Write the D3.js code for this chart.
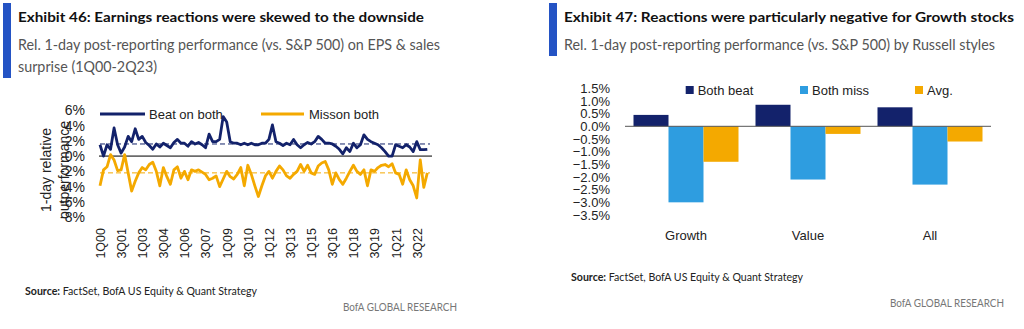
<!DOCTYPE html>
<html><head><meta charset="utf-8">
<script src="https://cdn.jsdelivr.net/npm/d3@7"></script>
<style>
html,body{margin:0;padding:0;background:#fff;}
svg{display:block;}
</style></head>
<body>
<svg id="c" width="1024" height="329"></svg>
<script>
// ---------- Data: Exhibit 46 ----------
const quarterStart = {year: 2000, q: 1};
const quarterCount = 94; // 1Q00 .. 2Q23
const xTickLabels = ["1Q00","3Q01","1Q03","3Q04","1Q06","3Q07","1Q09","3Q10","1Q12","3Q13","1Q15","3Q16","1Q18","3Q19","1Q21","3Q22"];
const yTicksLeft = [6,4,2,0,-2,-4,-6,-8];
const beatOnBoth = [1.5,0.0,1.5,0.9,3.7,1.5,0.4,1.2,2.6,1.9,3.6,2.2,2.6,1.8,1.4,0.9,1.6,1.2,1.7,1.4,
 1.1,1.8,2.2,1.7,1.7,1.3,1.9,1.6,1.8,1.5,1.1,2.9,1.9,1.9,2.2,5.2,4.5,1.9,1.7,1.7,
 1.5,1.7,1.5,1.7,1.5,1.5,1.7,1.7,2.2,4.1,1.9,1.7,1.4,1.7,1.5,2.2,1.5,1.1,1.5,1.8,
 1.6,1.9,2.6,2.2,1.7,1.7,1.6,1.3,0.9,0.3,1.1,0.6,1.7,1.1,1.5,2.8,2.2,1.9,1.7,1.5,
 1.1,0.6,0.0,0.0,1.5,1.3,1.1,1.5,1.2,0.6,1.9,0.85,0.85,0.9];
const missOnBoth = [-3.9,-1.8,-1.4,0.2,-0.5,-1.9,-1.8,0.2,-2.2,-4.6,-3.3,-2.2,-1.5,-1.8,-1.1,-0.8,-2.0,-3.9,-1.5,-2.7,
 -3.7,-1.8,-1.4,-2.9,-2.0,-3.1,-1.8,-2.0,-1.8,-2.1,-2.4,-3.1,-2.9,-2.6,-4.0,-3.0,-2.0,-2.7,-3.0,-2.4,
 -1.5,-3.9,-1.2,-2.4,-3.9,-5.3,-3.9,-2.6,-2.0,-2.9,-2.0,-1.3,-1.8,-2.6,-2.9,-2.4,-2.0,-1.1,-2.0,-1.2,
 -2.2,-2.4,-1.3,-0.9,-0.7,-1.8,-3.7,-2.2,-3.1,-3.7,-2.9,-2.0,-1.2,-2.0,-2.4,-1.8,-3.9,-1.8,-2.0,-1.5,
 -1.2,-1.1,-1.4,-1.0,-2.2,-2.4,-3.7,-1.8,-3.1,-3.9,-5.5,-0.5,-4.1,-2.2];
const averages = [1.6, -2.2]; // Beat on both avg, Miss on both avg
const lineSeriesNames = ["Beat on both", "Misson both"];

// ---------- Data: Exhibit 47 ----------
const styles = ["Growth","Value","All"];
const barSeriesNames = ["Both beat","Both miss","Avg."];
const bothBeat = [0.45, 0.85, 0.75];
const bothMiss = [-3.0, -2.1, -2.3];
const avgReaction = [-1.4, -0.3, -0.6];
const yTicksRight = [1.5,1.0,0.5,0.0,-0.5,-1.0,-1.5,-2.0,-2.5,-3.0,-3.5];

// ---------- Styles ----------
const NAVY = "#13226b", LBLUE = "#2e9de0", ORANGE = "#f4a900", ACCENT = "#2453c4";
const CHART_FONT = "'Liberation Sans', Arial, sans-serif";
const TITLE_FONT = "Lato, 'Open Sans', sans-serif";

const svg = d3.select("#c");
svg.append("rect").attr("width",1024).attr("height",329).attr("fill","#fff");

function fitText(sel, w){ sel.attr("textLength", w).attr("lengthAdjust","spacingAndGlyphs"); }

function header(x0, title, subLines, titleW, subWs, barH){
  svg.append("rect").attr("x", x0).attr("y", 3).attr("width", 8).attr("height", barH).attr("fill", ACCENT);
  const t = svg.append("text").attr("x", x0+15).attr("y", 21.5).attr("font-family", TITLE_FONT)
    .attr("font-weight", 700).attr("font-size", 14).attr("fill", "#111").text(title);
  fitText(t, titleW);
  subLines.forEach((s,i)=>{
    const st = svg.append("text").attr("x", x0+15).attr("y", 50 + i*22).attr("font-family", TITLE_FONT)
      .attr("font-size", 14.5).attr("fill", "#555").text(s);
    fitText(st, subWs[i]);
  });
}
function footer(x0, y0, x1, y1){
  const s = svg.append("text").attr("x", x0).attr("y", y0).attr("font-family", TITLE_FONT)
    .attr("font-size", 10.5).attr("fill", "#222");
  s.append("tspan").attr("font-weight",700).text("Source:");
  s.append("tspan").text(" FactSet, BofA US Equity & Quant Strategy");
  fitText(s, 232);
  const b = svg.append("text").attr("x", x1).attr("y", y1).attr("font-family", TITLE_FONT)
    .attr("font-size", 10.5).attr("fill", "#777").text("BofA GLOBAL RESEARCH");
  fitText(b, 114);
}

header(3, "Exhibit 46: Earnings reactions were skewed to the downside",
  ["Rel. 1-day post-reporting performance (vs. S&P 500) on EPS & sales", "surprise (1Q00-2Q23)"],
  406, [422, 139], 75);
header(549, "Exhibit 47: Reactions were particularly negative for Growth stocks",
  ["Rel. 1-day post-reporting performance (vs. S&P 500) by Russell styles"],
  450, [431], 53);
footer(25, 295, 343, 311);
footer(571, 281, 890, 307);

// ---------- Exhibit 46 line chart ----------
const quarters = [];
for (let i=0;i<quarterCount;i++){
  const q = (quarterStart.q - 1 + i) % 4 + 1;
  const yr = quarterStart.year + Math.floor((quarterStart.q - 1 + i)/4);
  quarters.push(q + "Q" + String(yr % 100).padStart(2,"0"));
}
const xL = d3.scalePoint().domain(quarters).range([100, 427.3]);
const yL = d3.scaleLinear().domain([-8, 6]).range([217, 110.5]);
const gL = svg.append("g");

// y axis labels
const yAxL = d3.axisLeft(yL).tickValues(yTicksLeft).tickSize(0).tickPadding(0).tickFormat(d=>d+"%");
gL.append("g").attr("transform","translate(85,0)").call(yAxL)
  .call(g=>g.select(".domain").remove())
  .selectAll("text").attr("font-family", CHART_FONT).attr("font-size", 14).attr("fill","#222");

// y axis title
[["1-day relative", 51], ["outperformance", 69]].forEach(([t, x])=>{
  gL.append("text").attr("transform", `translate(${x},170) rotate(-90)`).attr("text-anchor","middle")
    .attr("font-family", CHART_FONT).attr("font-size", 14).attr("fill","#222").text(t);
});

// x axis labels
const xAxL = d3.axisBottom(xL).tickValues(xTickLabels).tickSize(0).tickPadding(0);
gL.append("g").attr("transform","translate(0,228)").call(xAxL)
  .call(g=>g.select(".domain").remove())
  .selectAll("text").attr("font-family", CHART_FONT).attr("font-size", 12.5).attr("fill","#222")
  .attr("text-anchor","end").attr("dy","0.35em").attr("transform","rotate(-90)").attr("x",0).attr("y",0);

// zero line
gL.append("line").attr("x1", 99).attr("x2", 432).attr("y1", yL(0)).attr("y2", yL(0))
  .attr("stroke","#6b6b6b").attr("stroke-width",1.6);

// avg dashed lines
const lineColors = [NAVY, ORANGE];
averages.forEach((a,i)=>{
  gL.append("line").attr("x1", 100).attr("x2", 430).attr("y1", yL(a)).attr("y2", yL(a))
    .attr("stroke", lineColors[i]).attr("stroke-width",1).attr("stroke-dasharray","5,3");
});

const lineGen = d3.line().x((d,i)=>xL(quarters[i])).y(d=>yL(d));
[missOnBoth, beatOnBoth].forEach((s, k)=>{
  gL.append("path").datum(s).attr("d", lineGen).attr("fill","none")
    .attr("stroke", k===0 ? ORANGE : NAVY).attr("stroke-width", 2.8).attr("stroke-linejoin","round");
});

// legend
const legL = [[100, 145, 149], [261, 304, 309]];
lineSeriesNames.forEach((n,i)=>{
  const [a,b,t] = legL[i];
  gL.append("line").attr("x1",a).attr("x2",b).attr("y1",114).attr("y2",114)
    .attr("stroke", lineColors[i]).attr("stroke-width",2.8);
  gL.append("text").attr("x",t).attr("y",114).attr("dy","0.35em").attr("font-family",CHART_FONT)
    .attr("font-size",13).attr("fill","#222").text(n);
});

// ---------- Exhibit 47 bar chart ----------
const x0 = d3.scaleBand().domain(styles).range([625, 991]).padding(0);
const x1 = d3.scaleBand().domain(barSeriesNames).range([8.5, 113.5]).padding(0);
const yR = d3.scaleLinear().domain([-3.5, 1.5]).range([215, 88.3]);
const barColors = [NAVY, LBLUE, ORANGE];
const barData = [bothBeat, bothMiss, avgReaction];
const gR = svg.append("g");

const yAxR = d3.axisLeft(yR).tickValues(yTicksRight).tickSize(0).tickPadding(0).tickFormat(d=>d3.format(".1f")(d)+"%");
gR.append("g").attr("transform","translate(610,0)").call(yAxR)
  .call(g=>g.select(".domain").remove())
  .selectAll("text").attr("font-family", CHART_FONT).attr("font-size", 13).attr("fill","#222");

styles.forEach((s, ci)=>{
  barSeriesNames.forEach((n, si)=>{
    const v = barData[si][ci];
    gR.append("rect").attr("x", x0(s) + x1(n)).attr("width", x1.bandwidth())
      .attr("y", yR(Math.max(0, v))).attr("height", Math.abs(yR(v) - yR(0)))
      .attr("fill", barColors[si]);
  });
});
gR.append("line").attr("x1", 625).attr("x2", 991).attr("y1", yR(0)).attr("y2", yR(0))
  .attr("stroke","#555").attr("stroke-width",1);

const xAxR = d3.axisBottom(x0).tickSize(0).tickPadding(0);
gR.append("g").attr("transform","translate(0,235)").call(xAxR)
  .call(g=>g.select(".domain").remove())
  .selectAll("text").attr("font-family", CHART_FONT).attr("font-size", 13).attr("fill","#222").attr("dy","0.35em");

const legR = [685.7, 800, 915];
barSeriesNames.forEach((n,i)=>{
  gR.append("rect").attr("x", legR[i]).attr("y", 86).attr("width", 8).attr("height", 8).attr("fill", barColors[i]);
  gR.append("text").attr("x", legR[i]+12).attr("y", 90).attr("dy","0.35em").attr("font-family",CHART_FONT)
    .attr("font-size",13).attr("fill","#222").text(n);
});
</script>
</body></html>
